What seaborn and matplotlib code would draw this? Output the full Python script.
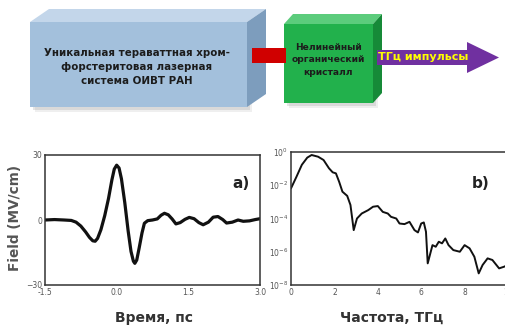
import numpy as np
import pandas as pd
import matplotlib
matplotlib.use('Agg')
import matplotlib.pyplot as plt
import seaborn as sns
from matplotlib.patches import Polygon, Rectangle
from matplotlib.ticker import FixedLocator, NullFormatter

# --- data ---
time_ps = [-1.5, -1.3, -1.1, -0.95, -0.85, -0.75, -0.65, -0.57, -0.5, -0.45, -0.4,
           -0.33, -0.25, -0.17, -0.1, -0.05, 0.0, 0.05, 0.1, 0.17, 0.24, 0.3, 0.35,
           0.38, 0.42, 0.47, 0.53, 0.58, 0.65, 0.75, 0.85, 0.93, 1.0, 1.08, 1.16,
           1.24, 1.33, 1.43, 1.52, 1.62, 1.72, 1.81, 1.92, 2.02, 2.12, 2.22, 2.3,
           2.42, 2.54, 2.65, 2.78, 2.9, 3.0]
field = [0.0, 0.2, 0.0, -0.2, -1.0, -2.8, -5.5, -8.0, -9.6, -9.8, -8.5,
         -4.5, 2.0, 10.0, 18.5, 23.5, 25.3, 24.0, 19.0, 8.0, -5.0, -14.5, -19.0,
         -20.0, -18.5, -13.0, -6.0, -1.5, -0.3, 0.0, 0.5, 2.2, 3.1, 2.4, 0.5,
         -1.8, -1.2, 0.3, 1.2, 0.6, -1.2, -2.2, -1.0, 1.3, 1.6, 0.2, -1.4,
         -1.0, 0.0, -0.6, -0.4, 0.2, 0.6]

freq_thz = [0.0, 0.25, 0.5, 0.75, 0.95, 1.25, 1.5, 1.75, 1.92, 2.07, 2.22, 2.37,
            2.59, 2.74, 2.89, 3.04, 3.26, 3.56, 3.78, 4.0, 4.23, 4.46, 4.61,
            4.85, 5.0, 5.23, 5.46, 5.69, 5.85, 6.0, 6.12, 6.22, 6.3, 6.44, 6.52,
            6.67, 6.81, 6.96, 7.11, 7.26, 7.48, 7.78, 8.0, 8.23, 8.45, 8.65,
            8.83, 9.06, 9.28, 9.59, 9.82, 10.0]
spectrum = [6.5e-3, 3.2e-2, 1.7e-1, 4.6e-1, 6.6e-1, 5.2e-1, 3.3e-1, 1.05e-1,
            6.0e-2, 5.2e-2, 1.6e-2, 4.1e-3, 2.3e-3, 6.5e-4, 2.0e-5, 1.0e-4,
            2.0e-4, 3.2e-4, 5.1e-4, 5.6e-4, 2.5e-4, 2.0e-4, 1.26e-4, 1.0e-4,
            5.0e-5, 4.6e-5, 6.3e-5, 2.0e-5, 1.45e-5, 5.0e-5, 5.8e-5, 1.6e-5,
            2.0e-7, 1.0e-6, 2.5e-6, 2.0e-6, 4.0e-6, 3.2e-6, 6.3e-6, 2.5e-6,
            1.26e-6, 1.0e-6, 2.5e-6, 1.6e-6, 5.0e-7, 5.0e-8, 1.6e-7, 4.0e-7,
            3.2e-7, 1.0e-7, 1.26e-7, 1.6e-7]

time_ticks = [-1.5, 0.0, 1.5, 3.0]
field_ticks = [-30, 0, 30]
freq_ticks = [0, 2, 4, 6, 8, 10]
spec_ticks = [1e-8, 1e-6, 1e-4, 1e-2, 1e0]

laser_text = 'Уникальная тераваттная хром-\nфорстеритовая лазерная\nсистема ОИВТ РАН'
crystal_text = 'Нелинейный\nорганический\nкристалл'
arrow_text = 'ТГц импульсы'

sns.set_style('white')
plt.rcParams['font.family'] = ['DejaVu Sans']

W, H = 505, 329
fig = plt.figure(figsize=(W / 100, H / 100), dpi=100)

# ---------------- diagram (pixel coordinates) ----------------
dg = fig.add_axes([0, 1 - 115 / H, 1, 115 / H])
dg.set_xlim(0, W)
dg.set_ylim(115, 0)
dg.axis('off')

def box(ax, x0, y0, x1, y1, dx, dy, front, top, side):
    # soft shadow
    for k, a in ((5, 0.15), (3, 0.25)):
        ax.add_patch(Polygon([(x0 + k, y0 + k), (x1 + k, y0 + k), (x1 + k, y1 + k), (x0 + k, y1 + k)],
                             closed=True, fc='#9a9a9a', ec='none', alpha=a, zorder=1))
    ax.add_patch(Polygon([(x0, y0), (x1, y0), (x1, y1), (x0, y1)], closed=True,
                         fc=front, ec='none', zorder=2))
    ax.add_patch(Polygon([(x0, y0), (x0 + dx, y0 - dy), (x1 + dx, y0 - dy), (x1, y0)],
                         closed=True, fc=top, ec='none', zorder=2))
    ax.add_patch(Polygon([(x1, y0), (x1 + dx, y0 - dy), (x1 + dx, y1 - dy), (x1, y1)],
                         closed=True, fc=side, ec='none', zorder=2))

box(dg, 30, 22, 247, 107, 19, 13, '#a3c0dc', '#c3d6ea', '#7d9dbd')
dg.add_patch(Rectangle((252, 48), 34, 15, fc='#d00000', ec='none', zorder=3))
box(dg, 284, 24, 373, 103, 9, 10, '#22b14c', '#5ccc7c', '#168a38')
dg.add_patch(Polygon([(377, 50), (467, 50), (467, 42), (499, 57.5), (467, 73),
                      (467, 65), (377, 65)], closed=True, fc='#7030a0', ec='none', zorder=3))

dg.text(137, 67, laser_text, ha='center', va='center', fontsize=7.4,
        fontweight='bold', color='#1c1c1c', linespacing=1.45, zorder=4)
dg.text(328, 60, crystal_text, ha='center', va='center', fontsize=6.6,
        fontweight='bold', color='#1c1c1c', linespacing=1.5, zorder=4)
dg.text(423, 57.5, arrow_text, ha='center', va='center', fontsize=8,
        fontweight='bold', color='#ffff00', zorder=4)

# ---------------- plots ----------------
ax1 = fig.add_axes([45 / W, 1 - 285 / H, 215 / W, 130 / H])
ax2 = fig.add_axes([291 / W, 1 - 285 / H, 217 / W, 133 / H])

df_t = pd.DataFrame({'t': time_ps, 'E': field})
df_f = pd.DataFrame({'f': freq_thz, 'S': spectrum})

sns.lineplot(data=df_t, x='t', y='E', ax=ax1, color='#111111', linewidth=2.3)
sns.lineplot(data=df_f, x='f', y='S', ax=ax2, color='#111111', linewidth=1.4)

ax1.set_xlim(-1.5, 3.0)
ax1.set_ylim(-30, 30)
ax1.set_xticks(time_ticks)
ax1.set_xticklabels(['-1.5', '0.0', '1.5', '3.0'])
ax1.set_yticks(field_ticks)
ax1.xaxis.set_minor_locator(FixedLocator([-0.75, 0.75, 2.25]))
ax1.yaxis.set_minor_locator(FixedLocator([-15, 15]))

ax2.set_yscale('log')
ax2.set_xlim(0, 10)
ax2.set_ylim(1e-8, 1e0)
ax2.set_xticks(freq_ticks)
ax2.set_yticks(spec_ticks)
ax2.set_yticklabels([r'$10^{-8}$', r'$10^{-6}$', r'$10^{-4}$', r'$10^{-2}$', r'$10^{0}$'])
ax2.xaxis.set_minor_locator(FixedLocator([1, 3, 5, 7, 9]))
ax2.yaxis.set_minor_locator(FixedLocator([1e-7, 1e-5, 1e-3, 1e-1]))
ax2.yaxis.set_minor_formatter(NullFormatter())

for ax in (ax1, ax2):
    ax.set_xlabel('')
    ax.set_ylabel('')
    for s in ax.spines.values():
        s.set_color('#333333')
        s.set_linewidth(1.1)
        s.set_visible(True)
    ax.tick_params(which='both', direction='in', color='#333333', labelcolor='#555555',
                   labelsize=5.5, pad=2)
    ax.tick_params(which='major', length=3, width=1)
    ax.tick_params(which='minor', length=2, width=0.8)

ax1.text(0.91, 0.78, 'a)', transform=ax1.transAxes, ha='center', va='center',
         fontsize=11, fontweight='bold', color='#222222')
ax2.text(0.875, 0.76, 'b)', transform=ax2.transAxes, ha='center', va='center',
         fontsize=11, fontweight='bold', color='#222222')

fig.text(15 / W, 1 - 218 / H, 'Field (MV/cm)', rotation=90, ha='center', va='center',
         fontsize=9.8, fontweight='bold', color='#555555')
fig.text(154 / W, 1 - 318 / H, 'Время, пс', ha='center', va='center',
         fontsize=10, fontweight='bold', color='#333333')
fig.text(392 / W, 1 - 318 / H, 'Частота, ТГц', ha='center', va='center',
         fontsize=10, fontweight='bold', color='#333333')

fig.savefig('out.png', dpi=100)
